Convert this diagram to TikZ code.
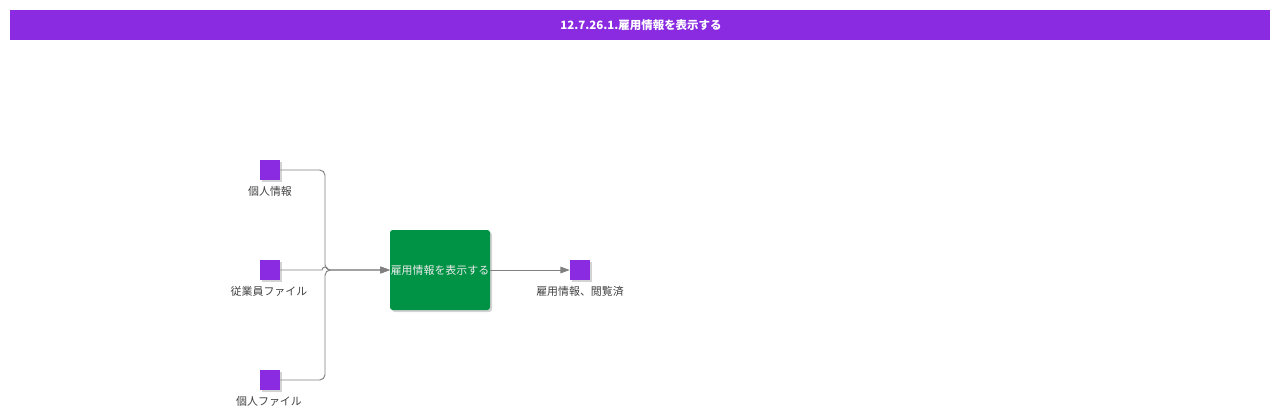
\documentclass[tikz,border=0pt]{standalone}
\usepackage{fontspec}
\newfontfamily\cjk{Noto Sans CJK JP}
\usetikzlibrary{arrows.meta,shadows}
\definecolor{bpurple}{HTML}{8A2BE2}
\definecolor{pgreen}{HTML}{009245}
\definecolor{wiregray}{HTML}{808080}
\definecolor{labelgray}{HTML}{404040}
\tikzset{
  databox/.style={draw=none,fill=bpurple,minimum size=15pt,inner sep=0pt,
    drop shadow={shadow xshift=1.5pt,shadow yshift=-1.5pt,opacity=0.35,fill=gray}},
  procbox/.style={draw=none,fill=pgreen,rounded corners=2pt,minimum width=75pt,minimum height=60pt,
    inner sep=0pt,text=white!85!gray,font=\cjk\fontsize{8.2}{10}\selectfont,
    drop shadow={shadow xshift=1.5pt,shadow yshift=-1.5pt,opacity=0.35,fill=gray}},
  boxlabel/.style={text=labelgray,font=\cjk\fontsize{8.2}{10}\selectfont,inner sep=0pt},
  wire/.style={draw=wiregray,line width=0.7pt,-{Triangle[length=7pt,width=5pt]}}
}
\begin{document}
\begin{tikzpicture}[x=0.75pt,y=-0.75pt]
  \useasboundingbox (0,0) rectangle (1280,419);
  % title bar
  \fill[bpurple] (10,10) rectangle (1270,40);
  \node[text=white,font=\cjk\bfseries\fontsize{8.6}{11}\selectfont] (title) at (641,25) {12.7.26.1.雇用情報を表示する};
  % inputs
  \node[databox] (pinfo) at (270,170) {};
  \node[boxlabel] (pinfolbl) at (270,191) {個人情報};
  \node[databox] (efile) at (270,270) {};
  \node[boxlabel] (efilelbl) at (269,291) {従業員ファイル};
  \node[databox] (pfile) at (270,380) {};
  \node[boxlabel] (pfilelbl) at (269,401) {個人ファイル};
  % process and output
  \node[procbox] (show) at (440,270) {雇用情報を表示する};
  \node[databox] (viewed) at (580,270) {};
  \node[boxlabel] (viewedlbl) at (580,291) {雇用情報、閲覧済};
  % connectors
  \coordinate (merge) at (325,270);
  \draw[wire,rounded corners=4pt] (pinfo.east) -| (merge) -- (show.west);
  \draw[wire,rounded corners=4pt] (pfile.east) -| (merge) -- (show.west);
  \draw[wire] (efile.east) -- (322,270) arc (180:360:3) -- (show.west);
  \draw[wire] (show.east) -- (viewed.west);
\end{tikzpicture}
\end{document}
